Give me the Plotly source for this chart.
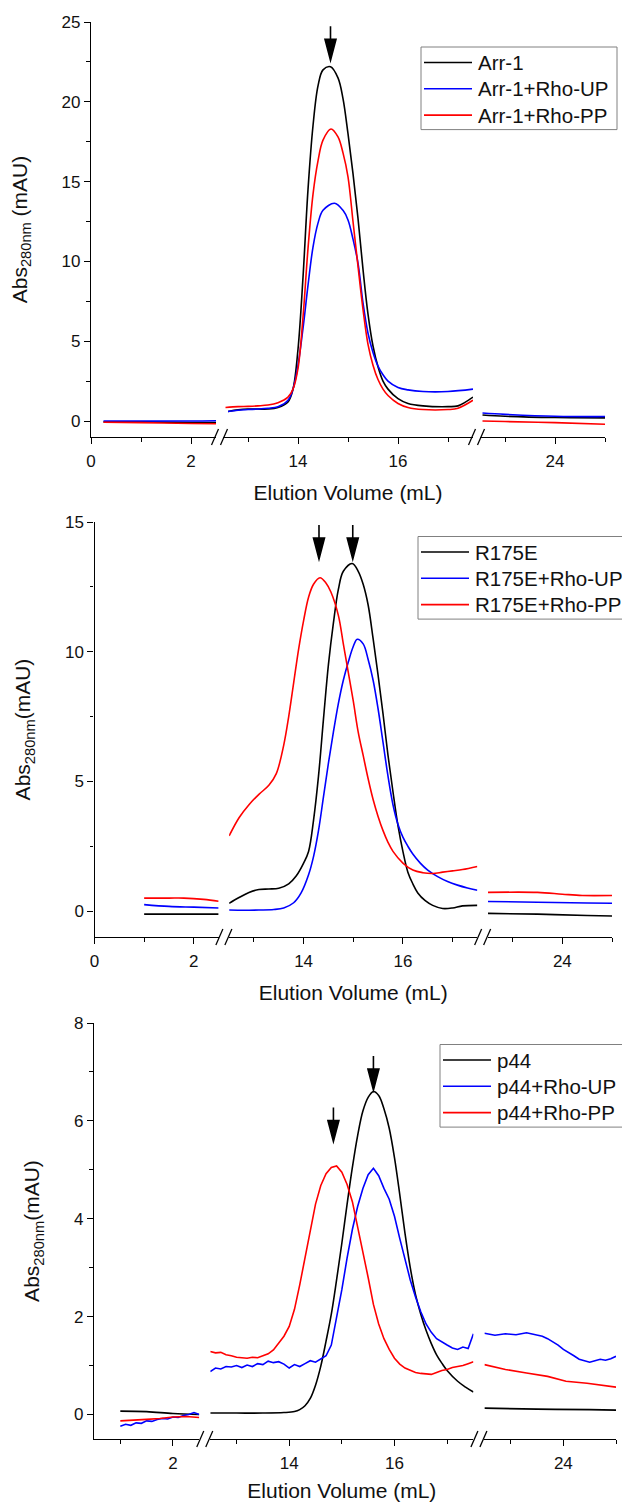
import plotly.graph_objects as go

# ---------------------------------------------------------------- data
# elution volume (mL) / Abs280 (mAU), read off the three SEC runs
# panel 1 : Arr-1
arr1_x = [0.25, 1.0, 2.0, 2.5,
          12.6, 12.8, 13.0, 13.2, 13.4, 13.6, 13.8, 13.9, 14.0, 14.1, 14.2, 14.3, 14.4, 14.5, 14.65,
          14.8, 14.9, 15.0, 15.1, 15.2, 15.3, 15.4, 15.5, 15.6, 15.7, 15.8, 16.0, 16.2, 16.5, 17.0, 17.2, 17.5,
          22.55, 23.0, 24.0, 25.0]
arr1_y = [-0.05, -0.05, -0.1, -0.1,
          0.6, 0.7, 0.75, 0.75, 0.75, 0.85, 1.2, 2.0, 4.5, 9.0, 14.5, 18.5, 21.0, 22.0, 22.2,
          21.5, 20.2, 18.0, 15.5, 12.7, 9.5, 6.7, 4.7, 3.4, 2.5, 2.0, 1.4, 1.1, 0.95, 0.9, 0.95, 1.5,
          0.38, 0.3, 0.22, 0.2]
arr1_up_x = [0.25, 1.0, 2.0, 2.5,
             12.6, 12.8, 13.0, 13.2, 13.4, 13.6, 13.8, 13.9, 14.0, 14.1, 14.2, 14.3, 14.4, 14.5, 14.73,
             14.9, 15.0, 15.1, 15.2, 15.3, 15.4, 15.5, 15.6, 15.7, 15.8, 16.0, 16.2, 16.5, 17.0, 17.5,
             22.55, 23.0, 24.0, 25.0]
arr1_up_y = [0.0, 0.0, 0.0, 0.02,
             0.6, 0.68, 0.72, 0.75, 0.8, 0.9, 1.3, 2.0, 3.5, 5.8, 8.5, 10.9, 12.4, 13.2, 13.64,
             13.2, 12.6, 11.4, 9.9, 7.4, 5.5, 4.3, 3.45, 2.9, 2.5, 2.1, 1.95, 1.85, 1.85, 2.0,
             0.5, 0.42, 0.3, 0.28]
arr1_pp_x = [0.25, 1.0, 2.0, 2.5,
             12.55, 12.8, 13.0, 13.2, 13.4, 13.6, 13.8, 13.9, 14.0, 14.1, 14.2, 14.3, 14.4, 14.5, 14.66,
             14.8, 14.9, 15.0, 15.1, 15.2, 15.3, 15.4, 15.5, 15.6, 15.7, 15.8, 16.0, 16.2, 16.5, 17.0, 17.2, 17.5,
             22.55, 23.0, 24.0, 25.0]
arr1_pp_y = [-0.08, -0.1, -0.15, -0.17,
             0.85, 0.9, 0.92, 0.95, 1.0, 1.15, 1.5, 2.0, 3.3, 6.5, 10.8, 14.2, 16.3, 17.6, 18.3,
             17.8, 16.8, 15.3, 12.5, 9.7, 7.0, 4.8, 3.5, 2.6, 2.0, 1.6, 1.1, 0.85, 0.72, 0.72, 0.8, 1.3,
             0.0, -0.03, -0.1, -0.2]

# panel 2 : R175E
r175e_x = [1.0, 1.5, 2.0, 2.5,
           12.5, 12.7, 12.9, 13.1, 13.3, 13.5, 13.7, 13.85, 14.0, 14.1, 14.2, 14.3, 14.4, 14.5, 14.6, 14.7,
           14.8, 14.98, 15.1, 15.2, 15.3, 15.4, 15.5, 15.6, 15.7, 15.8, 15.9, 16.0, 16.1, 16.2, 16.3, 16.45,
           16.6, 16.8, 17.0, 17.2, 17.5,
           22.5, 23.5, 24.5, 25.0]
r175e_y = [-0.12, -0.12, -0.12, -0.12,
           0.3, 0.52, 0.72, 0.83, 0.85, 0.88, 1.05, 1.35, 1.85, 2.3, 3.5, 5.2, 7.4, 9.5, 11.1, 12.4,
           13.1, 13.4, 13.1, 12.6, 11.8, 10.5, 9.1, 7.6, 6.0, 4.6, 3.3, 2.3, 1.5, 1.05, 0.7, 0.4,
           0.22, 0.1, 0.12, 0.2, 0.22,
           -0.09, -0.12, -0.17, -0.19]
r175e_up_x = [1.0, 1.5, 2.0, 2.5,
              12.5, 12.8, 13.1, 13.4, 13.6, 13.8, 13.95, 14.1, 14.2, 14.3, 14.4, 14.5, 14.6, 14.7, 14.8,
              14.9, 15.0, 15.08, 15.2, 15.3, 15.4, 15.5, 15.6, 15.7, 15.8, 15.9, 16.0, 16.1, 16.2, 16.35,
              16.5, 16.7, 16.9, 17.1, 17.3, 17.5,
              22.5, 23.5, 24.5, 25.0]
r175e_up_y = [0.25, 0.18, 0.15, 0.12,
              0.04, 0.03, 0.04, 0.06, 0.12, 0.32, 0.7, 1.4, 2.1, 3.1, 4.4, 5.7, 6.9, 8.0, 8.9,
              9.6, 10.2, 10.48, 10.3, 9.7, 8.9, 7.8, 6.5, 5.2, 4.1, 3.35, 2.85, 2.5, 2.2, 1.85,
              1.58, 1.33, 1.14, 1.0, 0.89, 0.8,
              0.37, 0.34, 0.31, 0.3]
r175e_pp_x = [1.0, 1.5, 1.8, 2.2, 2.5,
              12.5, 12.7, 12.9, 13.1, 13.3, 13.45, 13.6, 13.7, 13.8, 13.9, 14.0, 14.1, 14.2, 14.33, 14.45,
              14.55, 14.7, 14.8, 14.9, 15.0, 15.1, 15.2, 15.3, 15.4, 15.5, 15.6, 15.7, 15.8, 16.0, 16.2,
              16.4, 16.6, 16.8, 17.0, 17.2, 17.5,
              22.5, 23.5, 24.0, 24.4, 25.0]
r175e_pp_y = [0.5, 0.5, 0.5, 0.45, 0.38,
              2.9, 3.6, 4.1, 4.5, 4.85, 5.3, 6.4, 7.5, 8.8, 10.1, 11.2, 12.1, 12.6, 12.85, 12.65,
              12.3, 11.4, 10.3, 9.2, 8.1, 6.9, 6.0, 5.1, 4.3, 3.65, 3.1, 2.65, 2.3, 1.85, 1.58,
              1.48, 1.45, 1.5, 1.55, 1.6, 1.72,
              0.72, 0.72, 0.65, 0.6, 0.6]

# panel 3 : p44
p44_x = [1.0, 1.5, 2.0, 2.5,
         12.5, 13.0, 13.5, 13.9, 14.1, 14.2, 14.3, 14.4, 14.5, 14.6, 14.7, 14.8, 14.9, 15.0, 15.1, 15.2,
         15.3, 15.4, 15.5, 15.6, 15.7, 15.8, 15.9, 16.0, 16.1, 16.2, 16.3, 16.4, 16.5, 16.6, 16.7, 16.8,
         16.9, 17.0, 17.2, 17.35, 17.5,
         22.5, 23.5, 24.5, 25.0]
p44_y = [0.07, 0.06, 0.02, 0.0,
         0.03, 0.03, 0.03, 0.04, 0.06, 0.1, 0.18, 0.33, 0.6, 0.99, 1.5, 2.05, 2.75, 3.5, 4.3, 5.05,
         5.7, 6.2, 6.48, 6.6, 6.52, 6.25, 5.85, 5.25, 4.5, 3.7, 3.0, 2.45, 2.05, 1.72, 1.45, 1.22,
         1.05, 0.9, 0.68, 0.56, 0.46,
         0.13, 0.11, 0.1, 0.09]
p44_up_x = [1.0, 1.1, 1.2, 1.3, 1.4, 1.5, 1.6, 1.7, 1.8, 1.9, 2.0, 2.1, 2.2, 2.3, 2.4, 2.5,
            12.5, 12.6, 12.7, 12.8, 12.9, 13.0, 13.1, 13.2, 13.3, 13.4, 13.5, 13.6, 13.7, 13.8, 13.9,
            14.0, 14.1, 14.2, 14.3, 14.4, 14.5, 14.6, 14.7, 14.8, 14.9, 15.0, 15.1, 15.2, 15.3, 15.4,
            15.5, 15.6, 15.7, 15.8, 15.9, 16.0, 16.1, 16.2, 16.3, 16.4, 16.5, 16.6, 16.7, 16.8, 16.9,
            17.0, 17.1, 17.2, 17.3, 17.4, 17.5,
            22.5, 22.7, 22.9, 23.1, 23.3, 23.5, 23.6, 23.7, 23.8, 23.9, 24.0, 24.1, 24.2, 24.3, 24.4,
            24.5, 24.6, 24.7, 24.8, 24.9, 25.0]
p44_up_y = [-0.24, -0.2, -0.22, -0.17, -0.18, -0.13, -0.14, -0.1, -0.08, -0.09, -0.05, -0.06, -0.02, 0.0, 0.04, 0.0,
            0.88, 0.95, 0.93, 0.98, 0.97, 1.0, 0.96, 1.01, 0.98, 1.04, 1.02, 1.09, 1.06, 1.08, 1.03,
            0.95, 1.02, 0.98, 1.04, 1.1, 1.07, 1.14, 1.2, 1.42, 1.95, 2.55, 3.2, 3.78, 4.25, 4.62,
            4.9, 5.03, 4.88, 4.62, 4.4, 4.05, 3.6, 3.15, 2.75, 2.4, 2.1, 1.85, 1.68, 1.55, 1.48,
            1.42, 1.36, 1.33, 1.38, 1.35, 1.65,
            1.66, 1.62, 1.65, 1.63, 1.67, 1.63, 1.6, 1.55, 1.48, 1.42, 1.33, 1.27, 1.2, 1.13, 1.1,
            1.07, 1.1, 1.13, 1.11, 1.14, 1.19]
p44_pp_x = [1.0, 1.25, 1.5, 1.75, 2.0, 2.25, 2.5,
            12.5, 12.6, 12.7, 12.8, 12.9, 13.0, 13.1, 13.2, 13.3, 13.4, 13.5, 13.6, 13.7, 13.8, 13.9,
            14.0, 14.1, 14.2, 14.3, 14.4, 14.5, 14.6, 14.7, 14.8, 14.9, 15.0, 15.1, 15.2, 15.3, 15.4,
            15.5, 15.6, 15.7, 15.8, 15.9, 16.0, 16.1, 16.2, 16.3, 16.4, 16.5, 16.6, 16.7, 16.8, 16.9,
            17.0, 17.1, 17.2, 17.3, 17.4, 17.5,
            22.5, 22.9, 23.3, 23.7, 24.05, 24.45, 25.0]
p44_pp_y = [-0.13, -0.12, -0.1, -0.08, -0.05, -0.04, -0.06,
            1.29, 1.26, 1.27, 1.22, 1.2, 1.17, 1.16, 1.15, 1.17, 1.16, 1.2, 1.24, 1.32, 1.45, 1.6,
            1.8, 2.15, 2.65, 3.2, 3.8, 4.3, 4.68, 4.92, 5.05, 5.08, 4.95, 4.7, 4.35, 3.85, 3.35,
            2.8, 2.25, 1.85, 1.55, 1.33, 1.15, 1.03, 0.95, 0.9, 0.86, 0.84, 0.83, 0.82, 0.86, 0.9,
            0.92, 0.96, 0.98, 1.0, 1.04, 1.08,
            1.02, 0.92, 0.85, 0.78, 0.68, 0.64, 0.56]

# peak arrows (x in mL, tip height in mAU)
arrow1_x, arrow1_y = [14.65], [22.6]
arrow2_x, arrow2_y = [14.31, 14.99], [13.57, 13.57]
arrow3_x, arrow3_y = [14.84, 15.6], [5.58, 6.63]

# ---------------------------------------------------------------- layout
# the page body keeps its default 8px margin, so the figure is 8px smaller
# and all positions below (screen pixels) are shifted by OFF
OFF = 8
W, H = 630 - OFF, 1503 - OFF
COLORS = ["#000000", "#0000ff", "#ff0000"]
FONT = "Liberation Sans, Arial, sans-serif"
TXT = "#111111"
PITCH = 26.3   # legend row spacing, px


def fx(px):
    return (px - OFF) / W


def fy(py):
    return 1 - (py - OFF) / H


panels = [
    dict(series=[(arr1_x, arr1_y), (arr1_up_x, arr1_up_y), (arr1_pp_x, arr1_pp_y)],
         names=["Arr-1", "Arr-1+Rho-UP", "Arr-1+Rho-PP"],
         shapes=["spline"] * 3,
         segs=[(0, 2.5), (12.5, 17.5), (22.5, 25)],
         xticks=[[0, 2], [14, 16], [24]], xminor=[[1], [13, 15, 17], [23, 25]],
         yrange=[-1, 25], dtick=5, ytitle="Abs<sub>280nm</sub> (mAU)",
         px=(91, 605, 22, 437, 7), xstand=15, legend=(421, 62.5, 617),
         arrows=(arrow1_x, arrow1_y)),
    dict(series=[(r175e_x, r175e_y), (r175e_up_x, r175e_up_y), (r175e_pp_x, r175e_pp_y)],
         names=["R175E", "R175E+Rho-UP", "R175E+Rho-PP"],
         shapes=["spline"] * 3,
         segs=[(0, 2.5), (12.5, 17.5), (22.5, 25)],
         xticks=[[0, 2], [14, 16], [24]], xminor=[[1], [13, 15, 17], [23, 25]],
         yrange=[-1, 15], dtick=5, ytitle="Abs<sub>280nm</sub>(mAU)",
         px=(94.5, 612, 522, 937, 10.5), xstand=15, legend=(418, 552, 634),
         arrows=(arrow2_x, arrow2_y)),
    dict(series=[(p44_x, p44_y), (p44_up_x, p44_up_y), (p44_pp_x, p44_pp_y)],
         names=["p44", "p44+Rho-UP", "p44+Rho-PP"],
         shapes=["spline", "linear", "linear"],
         segs=[(0.5, 2.5), (12.5, 17.5), (22.5, 25)],
         xticks=[[2], [14, 16], [24]], xminor=[[1], [13, 15, 17], [23, 25]],
         yrange=[-0.5, 8], dtick=2, ytitle="Abs<sub>280nm</sub>(mAU)",
         px=(94, 616, 1023, 1439, 11), xstand=11, legend=(440, 1060, 627),
         arrows=(arrow3_x, arrow3_y)),
]

fig = go.Figure()
layout = dict(width=W, height=H, margin=dict(l=0, r=0, t=0, b=0), showlegend=False,
              paper_bgcolor="white", plot_bgcolor="white", template="none",
              font=dict(family=FONT, color=TXT, size=17), shapes=[], annotations=[])

axis_line = dict(showline=True, linecolor="black", linewidth=1.3, showgrid=False, zeroline=False,
                 ticks="outside", ticklen=6, tickwidth=1.3, tickcolor="black",
                 tickfont=dict(family=FONT, size=17, color=TXT))

for p, pan in enumerate(panels):
    L, R, top, bot, gap = pan["px"]
    segs = pan["segs"]
    total = sum(hi - lo for lo, hi in segs)
    k = (R - L - gap * (len(segs) - 1)) / total
    doms, x0 = [], L
    for lo, hi in segs:
        doms.append((x0, x0 + (hi - lo) * k))
        x0 += (hi - lo) * k + gap

    yname = "y" if p == 0 else f"y{p + 1}"
    ykey = "yaxis" if p == 0 else f"yaxis{p + 1}"
    first_x = 3 * p + 1

    layout[ykey] = dict(axis_line, domain=[fy(bot), fy(top)], range=pan["yrange"],
                        anchor="x" if first_x == 1 else f"x{first_x}",
                        tick0=0, dtick=pan["dtick"],
                        minor=dict(dtick=pan["dtick"] / 2, tick0=0, ticks="outside", ticklen=3.5,
                                   tickcolor="black", tickwidth=1.2),
                        title=dict(text=pan["ytitle"], font=dict(family=FONT, size=21, color=TXT),
                                   standoff=28))

    for s, (lo, hi) in enumerate(segs):
        n = 3 * p + s + 1
        xkey = "xaxis" if n == 1 else f"xaxis{n}"
        ax = dict(axis_line, domain=[fx(doms[s][0]), fx(doms[s][1])], range=[lo, hi],
                  anchor=yname, tickmode="array", tickvals=pan["xticks"][s], ticklabelstandoff=2,
                  minor=dict(tickmode="array", tickvals=pan["xminor"][s], ticks="outside",
                             ticklen=3.5, tickcolor="black", tickwidth=1.2))
        if s == 1:
            ax["title"] = dict(text="Elution Volume (mL)", standoff=pan["xstand"],
                               font=dict(family=FONT, size=21, color=TXT))
        layout[xkey] = ax

        for i, (xs, ys) in enumerate(pan["series"]):
            pts = [(x, y) for x, y in zip(xs, ys) if lo - 0.01 <= x <= hi + 0.01]
            fig.add_trace(go.Scatter(
                x=[a for a, _ in pts], y=[b for _, b in pts], mode="lines",
                line=dict(color=COLORS[i], width=1.6, shape=pan["shapes"][i]),
                name=pan["names"][i], xaxis="x" if n == 1 else f"x{n}", yaxis=yname))

    # axis break marks  //
    for s in range(len(segs) - 1):
        cx = (doms[s][1] + doms[s + 1][0]) / 2
        for off in (-4.5, 4.5):
            layout["shapes"].append(dict(
                type="line", xref="paper", yref="paper",
                x0=fx(cx + off - 3.5), x1=fx(cx + off + 3.5),
                y0=fy(bot + 8), y1=fy(bot - 8),
                line=dict(color="black", width=1.3)))

    # peak arrows
    axs, ays = pan["arrows"]
    for axv, ayv in zip(axs, ays):
        layout["shapes"].append(dict(
            type="path", xref=f"x{3 * p + 2}", yref=yname,
            xsizemode="pixel", ysizemode="pixel", xanchor=axv, yanchor=ayv,
            path="M0,0 L-5.5,21 L5.5,21 Z M0,21 L0,34",
            fillcolor="black", line=dict(color="black", width=1.6)))

    # legend box (Origin style: tight rows, gray frame)
    lb, row0, rb = pan["legend"]
    layout["shapes"].append(dict(
        type="rect", xref="paper", yref="paper",
        x0=fx(lb), x1=fx(rb), y0=fy(row0 + 2 * PITCH + 14.5), y1=fy(row0 - 15.5),
        line=dict(color="#808080", width=1), fillcolor="white"))
    for i, name in enumerate(pan["names"]):
        yy = fy(row0 + i * PITCH)
        layout["shapes"].append(dict(
            type="line", xref="paper", yref="paper", x0=fx(lb + 3), x1=fx(lb + 51),
            y0=yy, y1=yy, line=dict(color=COLORS[i], width=1.6)))
        layout["annotations"].append(dict(
            text=name, xref="paper", yref="paper", x=fx(lb + 55), y=yy,
            xanchor="left", yanchor="middle", showarrow=False,
            font=dict(family=FONT, size=20.5, color=TXT)))

fig.update_layout(**layout)
fig.write_html("out.html")
